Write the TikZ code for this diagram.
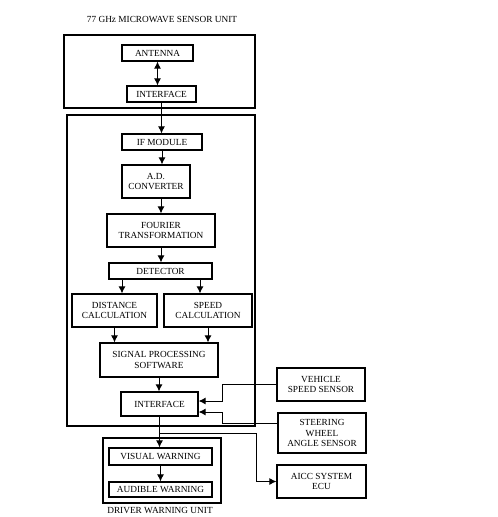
\documentclass[tikz,border=0pt]{standalone}
\usepackage{fontspec}
\setmainfont{Liberation Serif}
\usepackage{tikz}
\usetikzlibrary{arrows.meta,positioning}

\begin{document}
\begin{tikzpicture}[
  x=1pt, y=-1pt,
  font=\fontsize{9.3}{10.4}\selectfont,
  box/.style={draw, line width=1.2pt, align=center, inner sep=1pt,
    minimum height=16pt},
  frame/.style={draw, line width=1.1pt},
  arrow/.style={-{Latex[length=7pt,width=7pt]}, line width=1pt},
  darrow/.style={arrow, {Latex[length=7pt,width=7pt]}-{Latex[length=7pt,width=7pt]}}
]
\useasboundingbox (0,0) rectangle (498,517);

% sensor unit
\node (title) at (162,19) {77 GHz MICROWAVE SENSOR UNIT};
\draw[frame] (64,35) rectangle (255,108);
\node[box, minimum width=71pt] (antenna) at (157.5,53) {ANTENNA};
\node[box, minimum width=69pt] (iface1) at (161.5,94) {INTERFACE};

% processing
\draw[frame] (67,115) rectangle (255,426);
\node[box, minimum width=80pt] (ifmod) at (162,142) {IF MODULE};
\node[box, minimum width=68pt, minimum height=33pt] (adc) at (156,181.5) {A.D.\\CONVERTER};
\node[box, minimum width=108pt, minimum height=33pt] (fourier) at (161,230.5) {FOURIER\\TRANSFORMATION};
\node[box, minimum width=103pt] (detector) at (160.5,271) {DETECTOR};
\node[box, minimum width=85pt, minimum height=33pt] (dist) at (114.5,310.5) {DISTANCE\\CALCULATION};
\node[box, minimum width=88pt, minimum height=33pt] (speed) at (208,310.5) {SPEED\\CALCULATION};
\node[box, minimum width=118pt, minimum height=34pt] (sps) at (159,360) {SIGNAL PROCESSING\\SOFTWARE};
\node[box, minimum width=77pt, minimum height=24pt] (iface2) at (159.5,404) {INTERFACE};

% external units
\node[box, minimum width=88pt, minimum height=33pt] (vss) at (321,384.5) {VEHICLE\\SPEED SENSOR};
\node[box, minimum width=88pt, minimum height=40pt] (swa) at (322,433) {STEERING\\WHEEL\\ANGLE SENSOR};
\node[box, minimum width=89pt, minimum height=33pt] (aicc) at (321.5,481.5) {AICC SYSTEM\\ECU};

% driver warning
\draw[frame] (103,438) rectangle (221,503);
\node[box, minimum width=103pt, minimum height=17pt] (visual) at (160.5,456.5) {VISUAL WARNING};
\node[box, minimum width=103pt, minimum height=15pt] (audible) at (160.5,489.5) {AUDIBLE WARNING};
\node (driver) at (160,510) {DRIVER WARNING UNIT};

\draw[darrow] (antenna.south) -- (antenna.south |- iface1.north);
\draw[arrow] (iface1.south) -- (iface1.south |- ifmod.north);
\draw[arrow] (ifmod.south) -- (ifmod.south |- adc.north);
\draw[arrow] (fourier.north |- adc.south) -- (fourier.north);
\draw[arrow] (fourier.south) -- (fourier.south |- detector.north);
\draw[arrow] ([xshift=7.5pt]dist.north |- detector.south) -- ([xshift=7.5pt]dist.north);
\draw[arrow] ([xshift=-8pt]speed.north |- detector.south) -- ([xshift=-8pt]speed.north);
\draw[arrow] (dist.south) -- (dist.south |- sps.north);
\draw[arrow] (speed.south) -- (speed.south |- sps.north);
\draw[arrow] (sps.south) -- (sps.south |- iface2.north);

\draw[arrow] (vss.west) -- ++(-54,0) |- ([yshift=3pt]iface2.east);
\draw[arrow] ([yshift=10pt]swa.west) -- ++(-55,0) |- ([yshift=-8pt]iface2.east);

\coordinate (split) at ([yshift=-17pt]iface2.south);
\draw[arrow] (iface2.south) -- (iface2.south |- visual.north);
\draw[arrow] (split) -- ++(97,0) |- (aicc.west);
\draw[arrow] (visual.south) -- (visual.south |- audible.north);
\end{tikzpicture}
\end{document}
